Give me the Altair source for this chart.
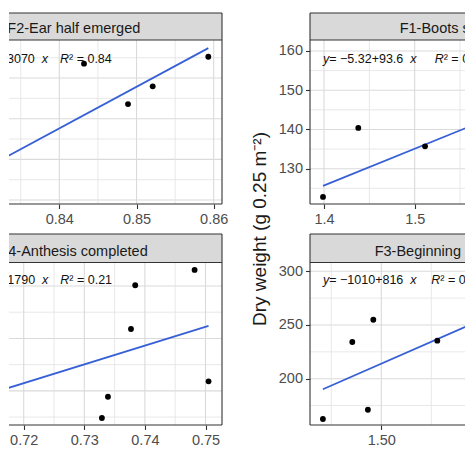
import altair as alt
import pandas as pd

FONT = "Liberation Sans, Arial, Helvetica, sans-serif"

# ---------------- data ----------------
# top-left panel
TL_TITLE = "F2-Ear half emerged"
TL_X = [0.8432, 0.8489, 0.8521, 0.8593]
TL_Y = [250.6, 220.8, 233.9, 255.7]
TL_COEF = [-2376, 3070]
TL_EQ = ["−2380", "3070", "0.84"]
TL_FIT = [0.820, 0.8593]
TL_XTICKS = [0.84, 0.85, 0.86]
TL_XMINOR = [0.835, 0.845, 0.855]
TL_YMAJOR = [150, 180, 210, 240]
TL_YMINOR = [165, 195, 225, 255]
TL_XDOM = [0.833484, 0.861075]
TL_YDOM = [147.08, 268.06]

# top-right panel
TR_TITLE = "F1-Boots swollen"
TR_X = [1.3989, 1.4378, 1.5114, 1.5637]
TR_Y = [122.8, 140.4, 135.7, 133.0]
TR_COEF = [-5.32, 93.6]
TR_EQ = ["−5.32", "93.6", "0.27"]
TR_FIT = [1.3989, 1.62]
TR_XTICKS = [1.4, 1.5]
TR_XMINOR = [1.45, 1.55]
TR_YMAJOR = [130, 140, 150, 160]
TR_YMINOR = [125, 135, 145, 155]
TR_XDOM = [1.38456, 1.55545]
TR_YDOM = [121.0, 162.8]

# bottom-left panel
BL_TITLE = "F4-Anthesis completed"
BL_X = [0.7329, 0.7339, 0.7377, 0.7384, 0.7482, 0.7505]
BL_Y = [274.1, 294.4, 359.0, 400.7, 415.3, 309.1]
BL_COEF = [-981.5, 1790]
BL_EQ = ["−982", "1790", "0.21"]
BL_FIT = [0.705, 0.7505]
BL_XTICKS = [0.72, 0.73, 0.74, 0.75]
BL_XMINOR = [0.725, 0.735, 0.745]
BL_YMAJOR = [300, 350, 400]
BL_YMINOR = [275, 325, 375]
BL_XDOM = [0.71757, 0.75272]
BL_YDOM = [267.44, 422.41]

# bottom-right panel
BR_TITLE = "F3-Beginning of anthesis"
BR_X = [1.4708, 1.4855, 1.4933, 1.4960, 1.5280]
BR_Y = [162.5, 234.2, 171.1, 254.9, 235.4]
BR_COEF = [-1010, 816]
BR_EQ = ["−1010", "816", "0.31"]
BR_FIT = [1.4708, 1.60]
BR_XTICKS = [1.50]
BR_XMINOR = [1.475, 1.525]
BR_YMAJOR = [200, 250, 300]
BR_YMINOR = [175, 225, 275]
BR_XDOM = [1.46435, 1.54185]
BR_YDOM = [156.89, 308.19]

Y_TITLE = "Dry weight (g 0.25 m⁻²)"

# ---------------- styling ----------------
STRIP_FILL = "#D9D9D9"
BORDER = "#333333"
BW = 1.1
GRID_MAJ = "#DADADA"
GRID_MIN = "#E2E2E2"
LINE_COL = "#3760D6"
EQ_FS = 12.5

CW = {"0": .556, "1": .556, "2": .556, "3": .556, "4": .556, "5": .556,
      "6": .556, "7": .556, "8": .556, "9": .556, ".": .278, " ": .278,
      "=": .584, "+": .584, "−": .584, "y": .5, "x": .5, "R": .722, "²": .333}


def tw(s, fs=EQ_FS):
    return sum(CW.get(c, .556) for c in s) * fs


one = pd.DataFrame({"k": [0]})


def vtext(text, px, py, fs, style="normal", align="left", color="#1A1A1A", angle=0, clip=True):
    kw = dict(text=text, font=FONT, fontSize=fs, fontStyle=style, align=align,
              baseline="alphabetic", color=color)
    if angle:
        kw["angle"] = angle
    if clip:
        kw["clip"] = True
    return alt.Chart(one).mark_text(**kw).encode(x=alt.value(px), y=alt.value(py))


def vrule(x1, y1, x2, y2):
    return alt.Chart(one).mark_rule(color=BORDER, strokeWidth=BW).encode(
        x=alt.value(x1), y=alt.value(y1), x2=alt.value(x2), y2=alt.value(y2))


def panel(title, xs_, ys_, coef, eq, fit, xticks, xminor, ymajor, yminor, xdom, ydom,
          W, H, sh, side, title_x, eq_x, r_x, xfmt, extra=None):
    xs = alt.Scale(domain=xdom, range=[0, W], nice=False, zero=False)
    ys = alt.Scale(domain=ydom, range=[H, sh], nice=False, zero=False)
    xax = alt.Axis(values=xticks, format=xfmt, title=None, grid=False, domain=False,
                   tickSize=4.5, tickColor=BORDER, tickWidth=1.1,
                   labelColor="#4D4D4D", labelFontSize=14.5, labelFont=FONT,
                   labelPadding=3.5, labelFlush=False, labelOverlap=False)
    if side == "right":
        yax = alt.Axis(values=ymajor, format="d", title=None, grid=False, domain=False,
                       tickSize=4.5, tickColor=BORDER, tickWidth=1.1,
                       labelColor="#4D4D4D", labelFontSize=14.5, labelFont=FONT,
                       labelPadding=3, labelFlush=False, labelOverlap=False)
    else:
        yax = None

    layers = []
    # grid lines
    layers.append(alt.Chart(pd.DataFrame({"v": yminor})).mark_rule(
        color=GRID_MIN, strokeWidth=0.8, clip=True).encode(
        y=alt.Y("v:Q", scale=ys, axis=yax), x=alt.value(0), x2=alt.value(W)))
    layers.append(alt.Chart(pd.DataFrame({"v": ymajor})).mark_rule(
        color=GRID_MAJ, strokeWidth=1.1, clip=True).encode(
        y=alt.Y("v:Q", scale=ys, axis=yax), x=alt.value(0), x2=alt.value(W)))
    layers.append(alt.Chart(pd.DataFrame({"v": xminor})).mark_rule(
        color=GRID_MIN, strokeWidth=0.8, clip=True).encode(
        x=alt.X("v:Q", scale=xs, axis=xax), y=alt.value(sh), y2=alt.value(H)))
    layers.append(alt.Chart(pd.DataFrame({"v": xticks})).mark_rule(
        color=GRID_MAJ, strokeWidth=1.1, clip=True).encode(
        x=alt.X("v:Q", scale=xs, axis=xax), y=alt.value(sh), y2=alt.value(H)))

    # regression line
    a, b = coef
    fit_df = pd.DataFrame({"x": fit, "y": [a + b * v for v in fit]})
    layers.append(alt.Chart(fit_df).mark_line(color=LINE_COL, strokeWidth=1.8, clip=True).encode(
        x=alt.X("x:Q", scale=xs, axis=xax), y=alt.Y("y:Q", scale=ys, axis=yax)))
    # points
    pts = pd.DataFrame({"x": xs_, "y": ys_})
    layers.append(alt.Chart(pts).mark_circle(size=34, color="black", opacity=1, clip=True).encode(
        x=alt.X("x:Q", scale=xs, axis=xax), y=alt.Y("y:Q", scale=ys, axis=yax)))

    # strip
    layers.append(alt.Chart(one).mark_rect(fill=STRIP_FILL).encode(
        x=alt.value(0), x2=alt.value(W), y=alt.value(0), y2=alt.value(sh)))
    # borders
    layers.append(vrule(0, 0, W, 0))
    layers.append(vrule(0, sh, W, sh))
    layers.append(vrule(0, H, W, H))
    if side == "right":
        layers.append(vrule(0, 0, 0, H))
    else:
        layers.append(vrule(W, 0, W, H))

    # strip title
    layers.append(vtext(title, title_x, sh - 7, 14.5,
                        align="left" if side == "right" else "right"))

    # equation  y = a+b x   R² = r
    inter, slope, r2 = eq
    p1, p2, p3 = "y", f" = {inter}+{slope} ", "x"
    w1, w2, w3 = tw(p1), tw(p2), tw(p3)
    x0 = eq_x if side == "right" else eq_x - (w1 + w2 + w3)
    yb = 49.5
    layers.append(vtext(p1, x0, yb, EQ_FS, "italic", color="#111111"))
    layers.append(vtext(p2, x0 + w1, yb, EQ_FS, color="#111111"))
    layers.append(vtext(p3, x0 + w1 + w2, yb, EQ_FS, "italic", color="#111111"))
    layers.append(vtext("R", r_x, yb, EQ_FS, "italic", color="#111111"))
    layers.append(vtext("² = " + r2, r_x + tw("R"), yb, EQ_FS, color="#111111"))

    if extra is not None:
        layers.append(extra)

    return alt.layer(*layers).properties(width=W, height=H)


WL, WR, H = 213, 155, 191

ytitle = vtext(Y_TITLE, -44, 216, 19, align="center", color="#1A1A1A", angle=270, clip=False)

TL = panel(TL_TITLE, TL_X, TL_Y, TL_COEF, TL_EQ, TL_FIT, TL_XTICKS, TL_XMINOR, TL_YMAJOR,
           TL_YMINOR, TL_XDOM, TL_YDOM, WL, H, 27, "left", 131.3, 39, 51, ".2f")
TR = panel(TR_TITLE, TR_X, TR_Y, TR_COEF, TR_EQ, TR_FIT, TR_XTICKS, TR_XMINOR, TR_YMAJOR,
           TR_YMINOR, TR_XDOM, TR_YDOM, WR, H, 27, "right", 89.7, 13, 124.7, ".1f", extra=ytitle)
BL = panel(BL_TITLE, BL_X, BL_Y, BL_COEF, BL_EQ, BL_FIT, BL_XTICKS, BL_XMINOR, BL_YMAJOR,
           BL_YMINOR, BL_XDOM, BL_YDOM, WL, H, 28.5, "left", 138.7, 39.3, 51.3, ".2f")
BR = panel(BR_TITLE, BR_X, BR_Y, BR_COEF, BR_EQ, BR_FIT, BR_XTICKS, BR_XMINOR, BR_YMAJOR,
           BR_YMINOR, BR_XDOM, BR_YDOM, WR, H, 28.5, "right", 64.7, 13, 121.3, ".2f")

chart = alt.concat(TL, TR, BL, BR, columns=2, spacing={"row": 30, "column": 88},
                   bounds="flush").properties(
    padding={"left": 0, "top": 4, "right": 0, "bottom": 2},
    background="white",
).configure_view(stroke=None)

chart.save("out.html", embed_options={"renderer": "svg", "actions": False})
